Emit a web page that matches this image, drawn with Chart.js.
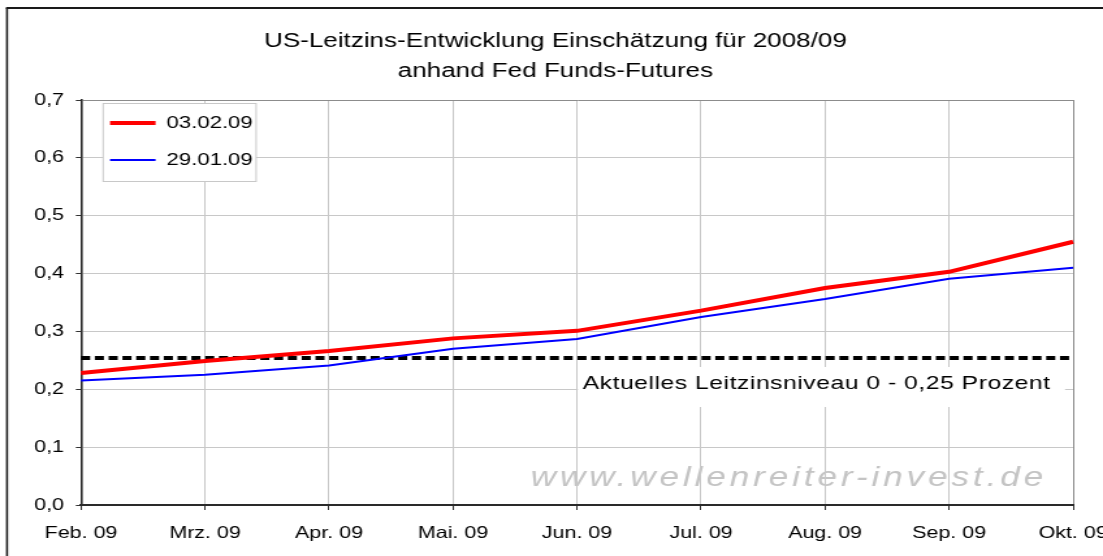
<!DOCTYPE html>
<html>
<head>
<meta charset="utf-8">
<script src="https://cdn.jsdelivr.net/npm/chart.js@4/dist/chart.umd.min.js"></script>
<style>
  html, body { margin: 0; padding: 0; background: #fff; overflow: hidden; }
  #c { display: block; width: 1103px; height: 556px; }
</style>
</head>
<body>
<canvas id="c" width="848" height="556" style="width:1103px;height:556px"></canvas>
<script>
// ---- data ----
const categories = ['Feb. 09', 'Mrz. 09', 'Apr. 09', 'Mai. 09', 'Jun. 09', 'Jul. 09', 'Aug. 09', 'Sep. 09', 'Okt. 09'];
const series0302 = [0.228, 0.249, 0.266, 0.288, 0.301, 0.336, 0.375, 0.403, 0.455];
const series2901 = [0.215, 0.225, 0.241, 0.270, 0.287, 0.325, 0.356, 0.391, 0.410];
const currentLevel = [0.254, 0.254, 0.254, 0.254, 0.254, 0.254, 0.254, 0.254, 0.254];
const yTickLabels = ['0,0', '0,1', '0,2', '0,3', '0,4', '0,5', '0,6', '0,7'];
const seriesNames = ['03.02.09', '29.01.09', 'Aktuelles Leitzinsniveau'];
const titleLines = ['US-Leitzins-Entwicklung Einschätzung für 2008/09', 'anhand Fed Funds-Futures'];
const annotationText = 'Aktuelles Leitzinsniveau 0 - 0,25 Prozent';
const watermarkText = 'www.wellenreiter-invest.de';

const FAM = "'Liberation Sans', Arial, Helvetica, sans-serif";
Chart.defaults.font.family = FAM;
Chart.defaults.color = '#000';

const deco = {
  id: 'deco',
  beforeDraw(chart) {
    const ctx = chart.ctx, ca = chart.chartArea;
    ctx.save();
    ctx.fillStyle = '#fff';
    ctx.fillRect(0, 0, chart.width, chart.height);
    // outer frame (left + top)
    ctx.strokeStyle = '#1a1a1a';
    ctx.lineWidth = 1.6;
    ctx.beginPath();
    ctx.moveTo(5.4, chart.height);
    ctx.lineTo(5.4, 8);
    ctx.stroke();
    ctx.lineWidth = 2;
    ctx.beginPath();
    ctx.moveTo(4.6, 8);
    ctx.lineTo(chart.width, 8);
    ctx.stroke();
    // watermark
    ctx.font = 'italic 27px ' + FAM;
    try { ctx.letterSpacing = '3px'; } catch (e) {}
    ctx.fillStyle = '#c4c4c4';
    ctx.textBaseline = 'alphabetic';
    ctx.textAlign = 'left';
    ctx.fillText(watermarkText, ca.right - 417, ca.bottom - 19);
    ctx.restore();
  },
  afterLayout(chart) {
    const lg = chart.legend;
    if (!lg) return;
    const ca = chart.chartArea;
    lg.left = ca.left + 2.3;
    lg.top = ca.top - 5.5;
    if (!lg._deco) {
      lg._deco = true;
      const orig = lg.draw;
      lg.draw = function () {
        const ctx = this.ctx, a = this.chart.chartArea;
        ctx.save();
        ctx.fillStyle = '#fff';
        ctx.strokeStyle = '#c8c8c8';
        ctx.lineWidth = 1;
        const x = a.left + 17, y = a.top + 3.5, w = 117.6, h = 78;
        ctx.fillRect(x, y, w, h);
        ctx.strokeRect(x, y, w, h);
        ctx.restore();
        orig.apply(this, arguments);
      };
    }
  },
  beforeDatasetsDraw(chart) {
    const ctx = chart.ctx, ca = chart.chartArea;
    ctx.save();
    ctx.fillStyle = '#fff';
    ctx.fillRect(ca.right - 380.6, 367, 374.4, 40);
    ctx.font = '19px ' + FAM;
    try { ctx.letterSpacing = '0.4px'; } catch (e) {}
    ctx.fillStyle = '#000';
    ctx.textBaseline = 'alphabetic';
    ctx.textAlign = 'left';
    ctx.fillText(annotationText, ca.right - 377, 388.5);
    ctx.restore();
  }
};

new Chart(document.getElementById('c'), {
  type: 'line',
  data: {
    labels: categories,
    datasets: [
      { label: seriesNames[0], data: series0302, borderColor: '#ff0000', backgroundColor: '#ff0000',
        borderWidth: 4, pointRadius: 0, pointHoverRadius: 0, pointBorderWidth: 4, tension: 0, fill: false },
      { label: seriesNames[1], data: series2901, borderColor: '#0000ff', backgroundColor: '#0000ff',
        borderWidth: 2, pointRadius: 0, pointHoverRadius: 0, pointBorderWidth: 2, tension: 0, fill: false },
      { label: seriesNames[2], data: currentLevel, borderColor: '#000', backgroundColor: '#000',
        borderWidth: 4, borderDash: [7, 3.6], pointRadius: 0, pointHoverRadius: 0, tension: 0, fill: false, borderCapStyle: 'butt' }
    ]
  },
  options: {
    responsive: false,
    animation: false,
    devicePixelRatio: 1,
    layout: { padding: { left: 6, top: 10, right: 0, bottom: 0 } },
    plugins: {
      title: {
        display: true,
        text: titleLines,
        color: '#000',
        font: { size: 20, weight: 'normal', family: FAM, lineHeight: 1.5 },
        padding: { top: 16, bottom: 14 }
      },
      legend: {
        position: 'chartArea',
        align: 'start',
        labels: {
          usePointStyle: true,
          pointStyle: 'line',
          pointStyleWidth: 35,
          padding: 20,
          color: '#000',
          font: { size: 17, family: FAM },
          filter: (item) => item.datasetIndex < 2
        }
      },
      tooltip: { enabled: false }
    },
    scales: {
      x: {
        type: 'category',
        offset: false,
        grid: {
          color: (c) => (c.index === categories.length - 1 ? '#8c8c8c' : '#c8c8c8'),
          lineWidth: 1,
          tickLength: 5,
          tickColor: '#333',
          drawTicks: true
        },
        border: { color: '#2a2a2a', width: 2 },
        ticks: { font: { size: 16.5 }, color: '#000', padding: 14, maxRotation: 0, autoSkip: false },
        afterFit: (s) => { s.height = 51; s.paddingLeft = 0; s.paddingRight = 23; }
      },
      y: {
        type: 'linear',
        min: 0,
        max: 0.7,
        grid: {
          color: (c) => (c.tick && Math.abs(c.tick.value - 0.7) < 1e-9 ? '#8c8c8c' : '#c8c8c8'),
          lineWidth: 1,
          tickLength: 4,
          tickColor: '#333'
        },
        border: { color: '#2a2a2a', width: 1.6 },
        ticks: { stepSize: 0.1, font: { size: 16.5 }, color: '#000', padding: 9,
          callback: (v, i) => yTickLabels[i] },
        afterFit: (s) => { s.width = 56.3; }
      }
    }
  },
  plugins: [deco]
});
</script>
</body>
</html>
